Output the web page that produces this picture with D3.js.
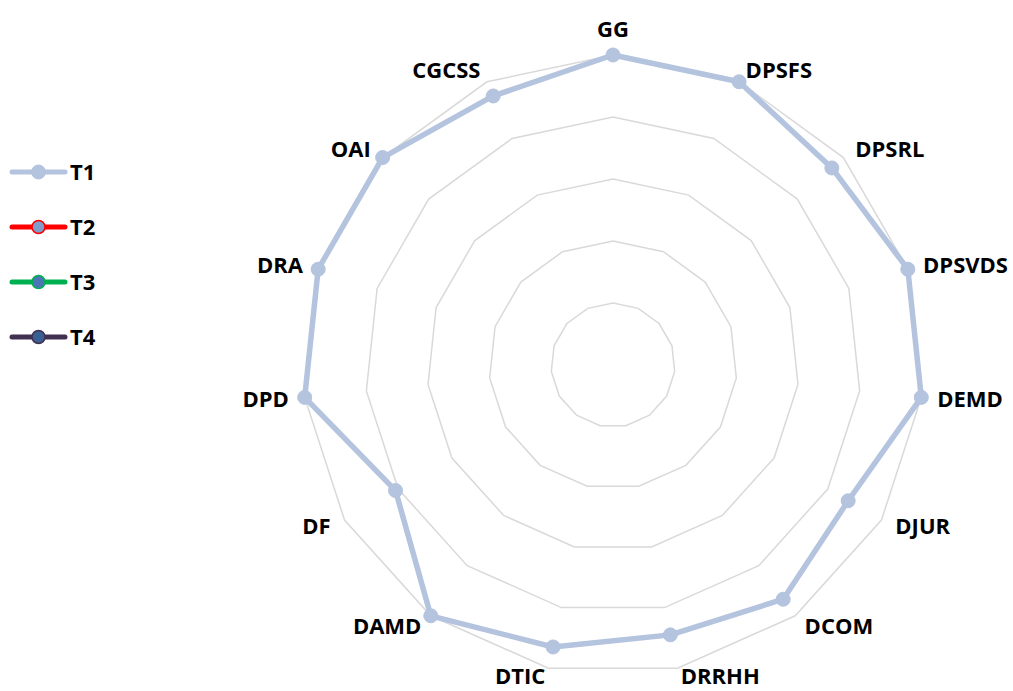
<!DOCTYPE html>
<html>
<head>
<meta charset="utf-8">
<script src="https://cdn.jsdelivr.net/npm/d3@7"></script>
<style>
  html, body { margin: 0; padding: 0; background: #fff; }
  svg { display: block; }
  text { font-family: "Open Sans", Lato, sans-serif; font-weight: bold; fill: #000; }
</style>
</head>
<body>
<svg id="chart" width="1013" height="691"></svg>
<script>
// ---- data ----
const categories = ["GG","DPSFS","DPSRL","DPSVDS","DEMD","DJUR","DCOM","DRRHH","DTIC","DAMD","DF","DPD","DRA","OAI","CGCSS"];
const seriesNames = ["T1","T2","T3","T4"];
const t1Values = [5, 5, 4.75, 5, 5, 4.38, 4.67, 4.45, 4.65, 5, 4.05, 5, 5, 5, 4.75];
const t2Values = [];
const t3Values = [];
const t4Values = [];
const ringTicks = [1, 2, 3, 4, 5];

const seriesData = [t1Values, t2Values, t3Values, t4Values];
const lineColors = ["#B4C3DE", "#FF0000", "#00B050", "#403151"];
const markerFills = ["#B4C3DE", "#7F9DCB", "#4A76B5", "#3A5F92"];
const markerStrokes = ["#B4C3DE", "#FF0000", "#00B050", "#403151"];

// ---- layout ----
const svg = d3.select("#chart");
const cx = 613, cy = 365, R = 310;
const n = categories.length;
const rScale = d3.scaleLinear().domain([0, 5]).range([0, R]);
const angle = d3.scaleLinear().domain([0, n]).range([0, 2 * Math.PI]);

const g = svg.append("g").attr("transform", `translate(${cx},${cy})`);

const pt = (i, v) => {
  const a = angle(i), r = rScale(v);
  return [Math.sin(a) * r, -Math.cos(a) * r];
};

// grid rings
g.selectAll("path.ring").data(ringTicks).join("path")
  .attr("class", "ring")
  .attr("d", t => d3.line()(d3.range(n).map(i => pt(i, t))) + "Z")
  .attr("fill", "none")
  .attr("stroke", "#D9D9D9")
  .attr("stroke-width", 1.5);

// series
seriesData.forEach((vals, s) => {
  if (!vals.length) return;
  const pts = vals.map((v, i) => pt(i, v));
  g.append("path")
    .attr("d", d3.line()(pts) + "Z")
    .attr("fill", "none")
    .attr("stroke", lineColors[s])
    .attr("stroke-width", 5.5)
    .attr("stroke-linejoin", "round");
  g.selectAll(null).data(pts).join("circle")
    .attr("cx", d => d[0]).attr("cy", d => d[1])
    .attr("r", 7)
    .attr("fill", markerFills[s])
    .attr("stroke", markerStrokes[s])
    .attr("stroke-width", 1);
});

// category labels
const fontSize = 22;
categories.forEach((c, i) => {
  const a = angle(i);
  const s = Math.sin(a), co = Math.cos(a);
  const [vx, vy] = pt(i, 5);
  let anchor = Math.abs(s) < 0.01 ? "middle" : (s > 0 ? "start" : "end");
  let x = vx + s * 16;
  let yc = vy - co * (co < -0.9 ? 8 : 13);
  if (anchor === "middle") yc = vy - co * (13 + fontSize * 0.6);
  g.append("text")
    .attr("x", x)
    .attr("y", yc)
    .attr("dy", "0.36em")
    .attr("text-anchor", anchor)
    .attr("font-size", fontSize)
    .text(c);
});

// legend
const legend = svg.append("g");
seriesNames.forEach((name, s) => {
  const y = 172 + s * 55;
  legend.append("line")
    .attr("x1", 12).attr("x2", 65).attr("y1", y).attr("y2", y)
    .attr("stroke", lineColors[s]).attr("stroke-width", 5)
    .attr("stroke-linecap", "round");
  legend.append("circle")
    .attr("cx", 38.5).attr("cy", y).attr("r", s === 0 ? 7 : 6.5)
    .attr("fill", markerFills[s])
    .attr("stroke", markerStrokes[s]).attr("stroke-width", s === 0 ? 1 : 1.5);
  legend.append("text")
    .attr("x", 70).attr("y", y).attr("dy", "0.36em")
    .attr("font-size", fontSize)
    .text(name);
});
</script>
</body>
</html>
